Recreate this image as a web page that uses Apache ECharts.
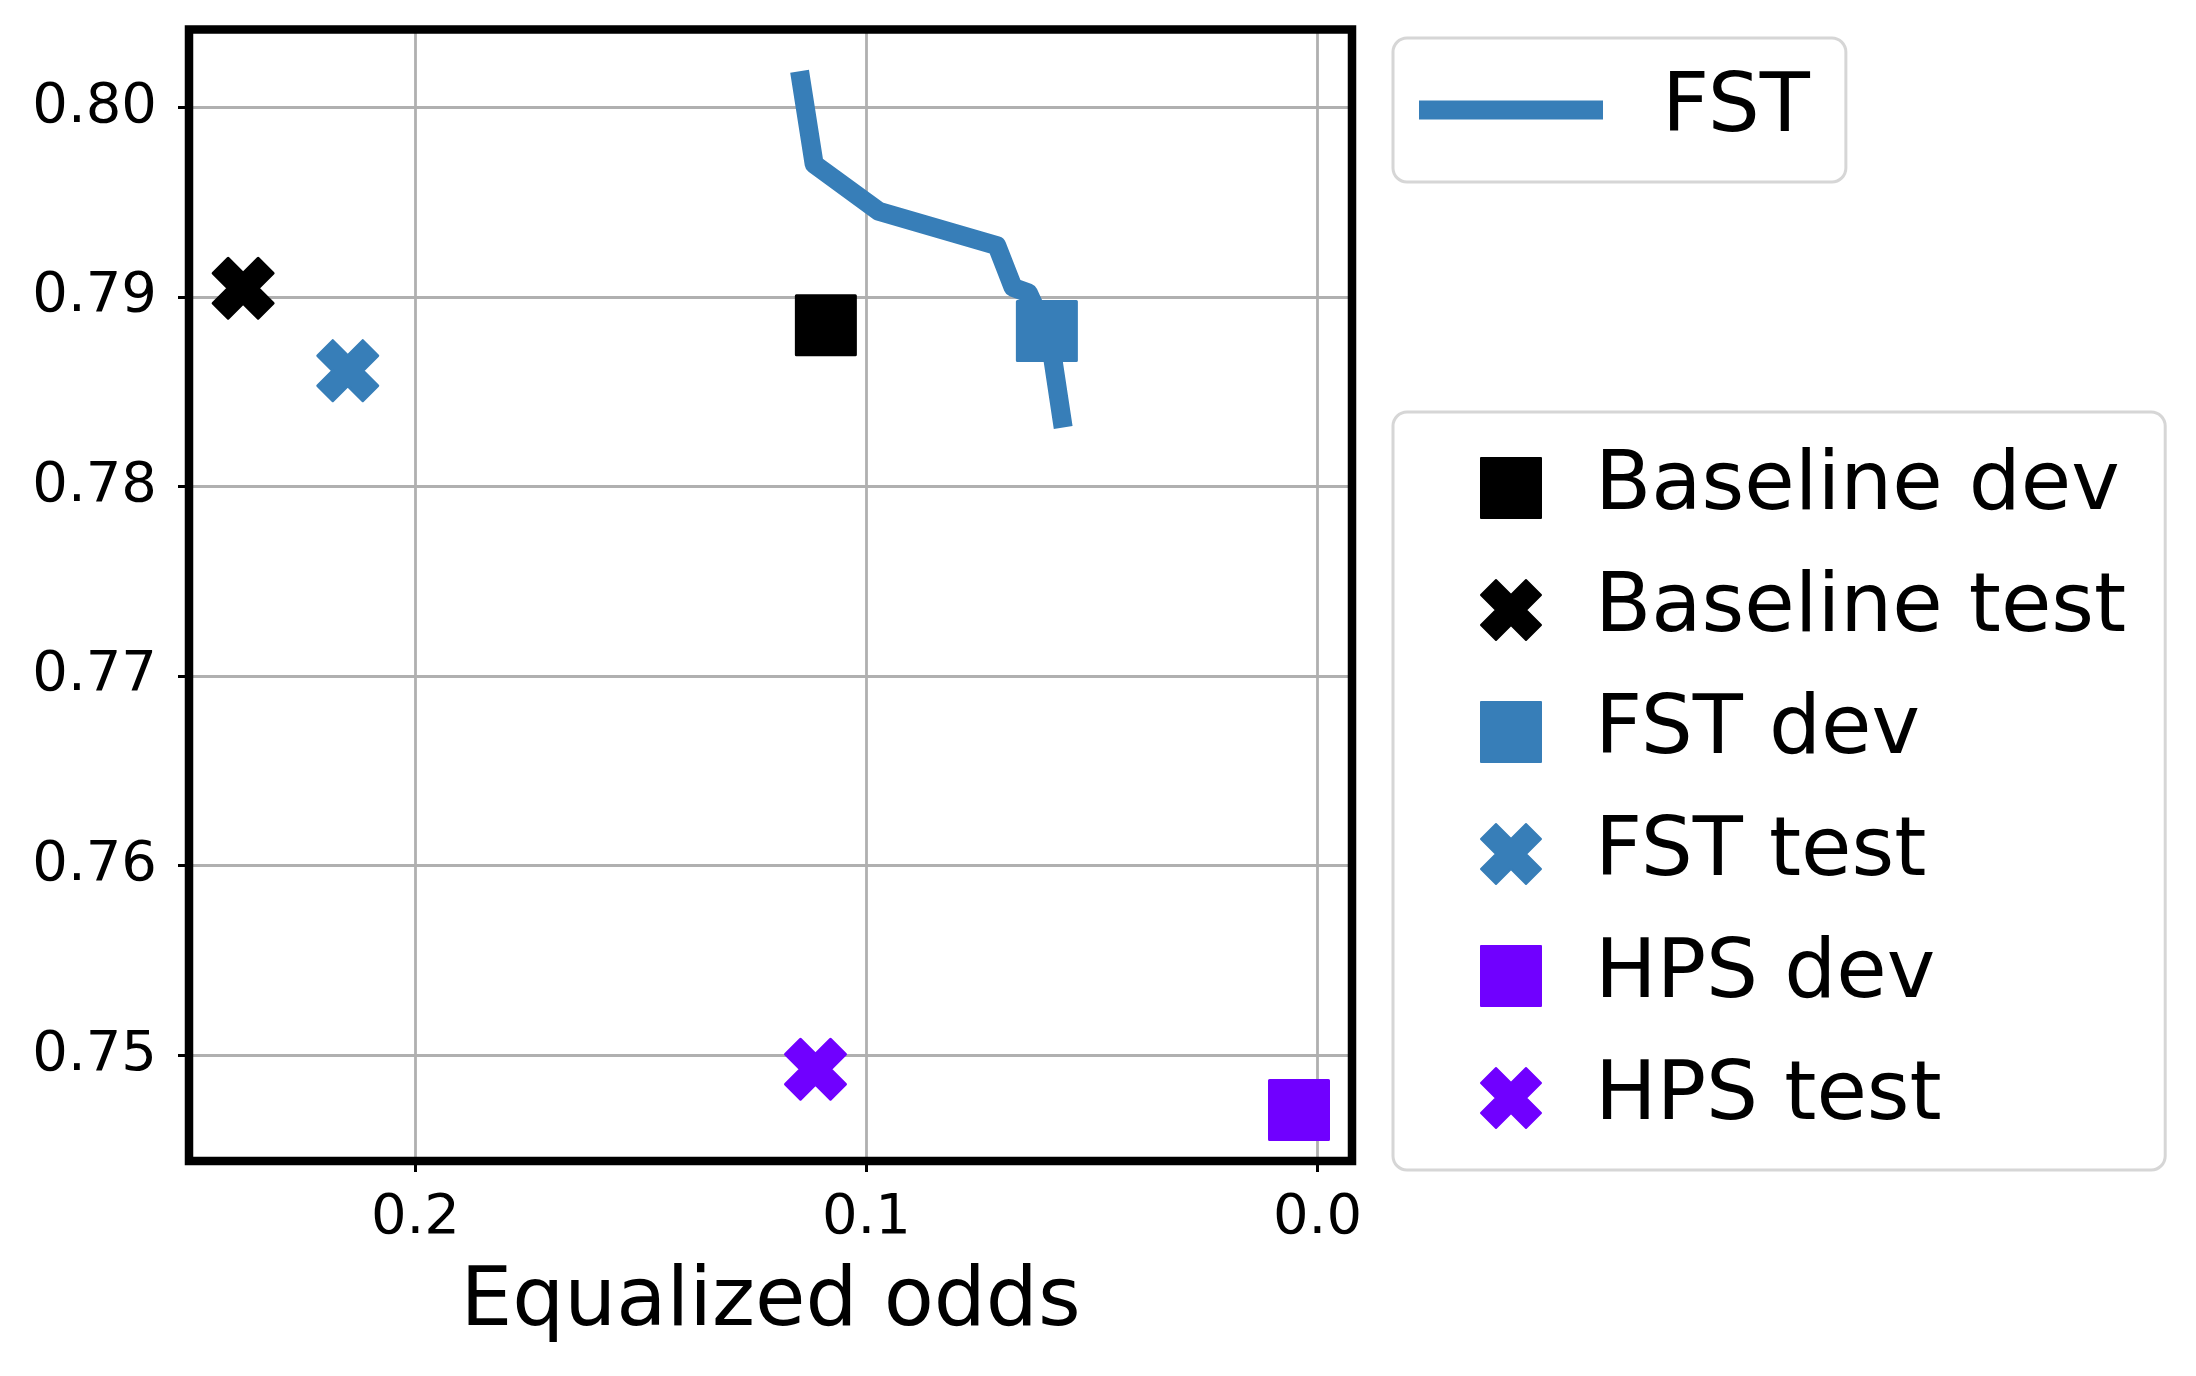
<!DOCTYPE html>
<html>
<head>
<meta charset="utf-8">
<script src="https://cdn.jsdelivr.net/npm/echarts@6/dist/echarts.min.js"></script>
<style>
html,body{margin:0;padding:0;background:#fff;}
#chart{width:2196px;height:1376px;}
</style>
</head>
<body>
<div id="chart"></div>
<script>
// FST trade-off curve (equalized odds, accuracy)
const fstCurveX = [0.1145, 0.1116, 0.0972, 0.0711, 0.0675, 0.0641, 0.0593, 0.0567];
const fstCurveY = [0.8014, 0.7970, 0.7945, 0.7927, 0.7905, 0.7902, 0.7877, 0.7836];

// single points
const pointNames = ['Baseline dev', 'Baseline test', 'FST dev', 'FST test', 'HPS dev', 'HPS test'];
const pointX = [0.1090, 0.2382, 0.0600, 0.2150, 0.0041, 0.1113];
const pointY = [0.7885, 0.79045, 0.7882, 0.7861, 0.7471, 0.74925];
const pointKind = ['dev', 'test', 'dev', 'test', 'dev', 'test'];
const pointColors = ['#000000', '#000000', '#377eb8', '#377eb8', '#7000ff', '#7000ff'];

// ticks
const xTicks = [0.0, 0.1, 0.2];
const yTicks = [0.75, 0.76, 0.77, 0.78, 0.79, 0.80];
const xRange = [-0.00765, 0.2502];
const yRange = [0.74441, 0.80410];

const FONT = 'DejaVu Sans';
const X_PATH = 'path://M1500 0L1000 500L500 0L0 500L500 1000L0 1500L500 2000L1000 1500L1500 2000L2000 1500L1500 1000L2000 500Z';

const series = [{
  name: 'FST',
  type: 'line',
  data: fstCurveX.map((x, i) => [x, fstCurveY[i]]),
  showSymbol: false,
  symbol: 'none',
  color: '#377eb8',
  lineStyle: { width: 19, color: '#377eb8', cap: 'square', join: 'round' },
  z: 2
}];
pointNames.forEach((n, i) => {
  const isTest = pointKind[i] === 'test';
  series.push({
    name: n,
    type: 'scatter',
    data: [[pointX[i], pointY[i]]],
    symbol: isTest ? X_PATH : 'rect',
    symbolSize: isTest ? 60 : 59,
    color: pointColors[i],
    itemStyle: { color: pointColors[i], borderColor: pointColors[i], borderWidth: 3, borderJoin: 'round', opacity: 1 },
    z: 3
  });
});

const chart = echarts.init(document.getElementById('chart'), null, { renderer: 'canvas' });
chart.setOption({
  animation: false,
  backgroundColor: '#ffffff',
  grid: {
    left: 189, top: 29.5, right: 844, bottom: 215,
    containLabel: false,
    outerBoundsMode: 'none',
    show: true,
    borderColor: '#000000',
    borderWidth: 8.5,
    backgroundColor: 'transparent',
    z: 5
  },
  xAxis: {
    type: 'value',
    position: 'bottom',
    inverse: true,
    min: xRange[0],
    max: xRange[1],
    axisLine: { show: false, onZero: false },
    axisTick: { show: true, length: 11, lineStyle: { color: '#000', width: 3 }, customValues: xTicks },
    axisLabel: {
      show: true, margin: 29, fontSize: 56, fontFamily: FONT, color: '#000',
      customValues: xTicks,
      formatter: v => Number(v).toFixed(1)
    },
    splitLine: { show: true, lineStyle: { color: '#b0b0b0', width: 2.8 } },
    name: 'Equalized odds',
    nameLocation: 'middle',
    nameGap: 102,
    nameTextStyle: { fontSize: 82, fontFamily: FONT, color: '#000' }
  },
  yAxis: {
    type: 'value',
    position: 'left',
    min: yRange[0],
    max: yRange[1],
    axisLine: { show: false, onZero: false },
    axisTick: { show: true, length: 11, lineStyle: { color: '#000', width: 3 }, customValues: yTicks },
    axisLabel: {
      show: true, margin: 32, fontSize: 56, fontFamily: FONT, color: '#000',
      customValues: yTicks,
      formatter: v => Number(v).toFixed(2)
    },
    splitLine: { show: true, lineStyle: { color: '#b0b0b0', width: 2.8 } }
  },
  legend: [{
    data: [{ name: 'FST', icon: 'rect' }],
    left: 1393, top: 38,
    orient: 'vertical',
    selectedMode: false,
    itemWidth: 184, itemHeight: 19,
    padding: [27, 36, 27, 26],
    borderColor: '#d6d6d6', borderWidth: 3, borderRadius: 14,
    backgroundColor: '#ffffff',
    textStyle: { fontSize: 82, fontFamily: FONT, color: '#000', lineHeight: 90, padding: [0, 0, 0, 54] }
  }, {
    data: pointNames,
    left: 1393, top: 412,
    orient: 'vertical',
    selectedMode: false,
    itemWidth: 60, itemHeight: 60,
    itemGap: 32,
    padding: [31, 39, 27, 87],
    borderColor: '#d6d6d6', borderWidth: 3, borderRadius: 14,
    backgroundColor: '#ffffff',
    textStyle: { fontSize: 82, fontFamily: FONT, color: '#000', lineHeight: 90, padding: [0, 0, 0, 49] }
  }],
  series: series
});
</script>
</body>
</html>
